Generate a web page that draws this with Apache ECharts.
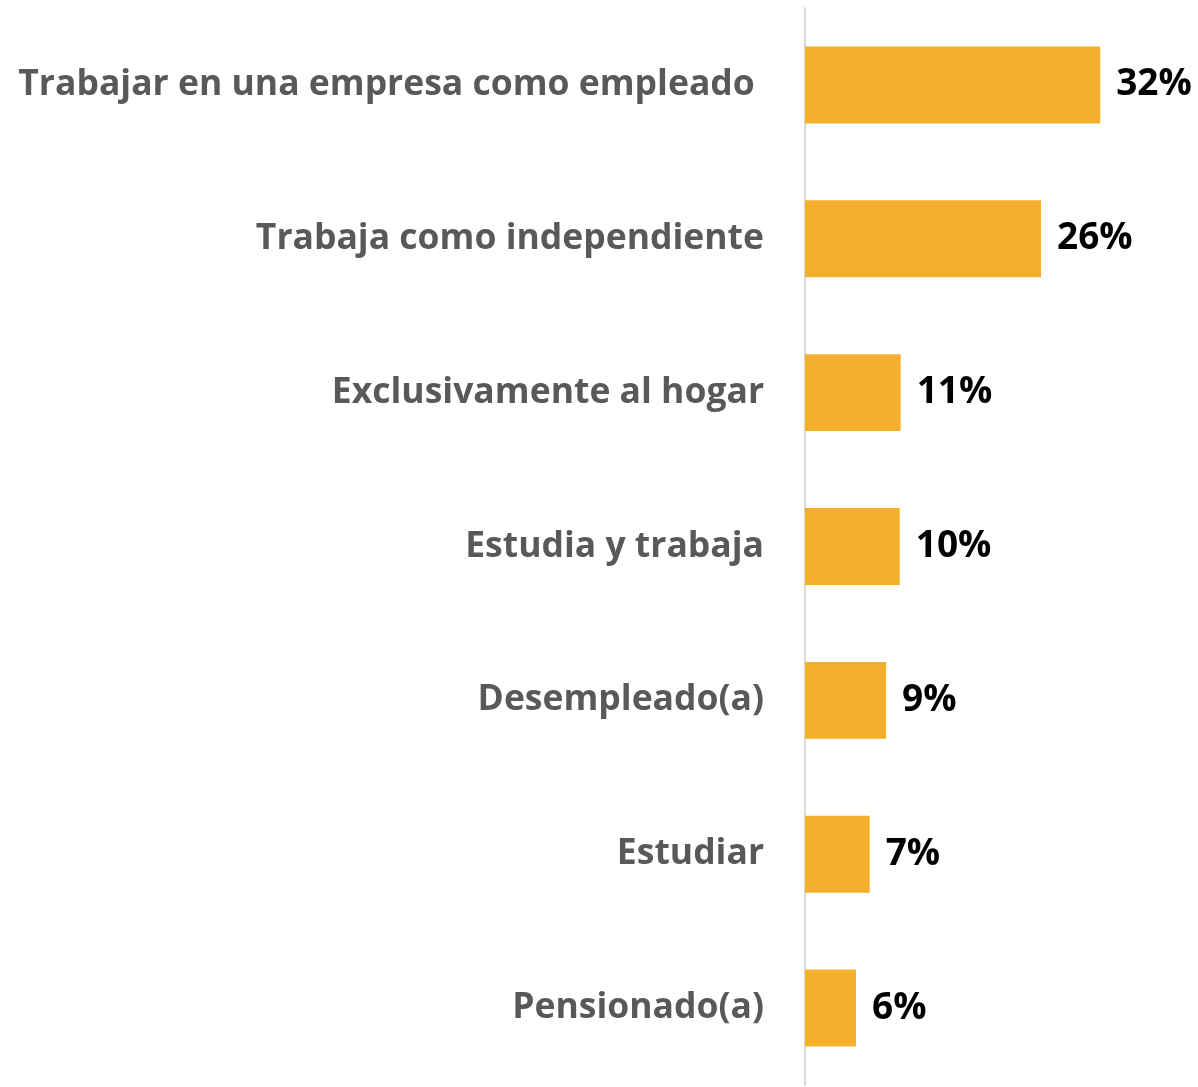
<!DOCTYPE html>
<html>
<head>
<meta charset="utf-8">
<script src="https://cdn.jsdelivr.net/npm/echarts@6/dist/echarts.min.js"></script>
<style>
  html, body { margin: 0; padding: 0; background: #fff; }
  #main { width: 1198px; height: 1087px; }
</style>
</head>
<body>
<div id="main"></div>
<script>
// categorias de arriba hacia abajo
var categorias = [
  'Trabajar en una empresa como empleado ',
  'Trabaja como independiente',
  'Exclusivamente al hogar',
  'Estudia y trabaja',
  'Desempleado(a)',
  'Estudiar',
  'Pensionado(a)'
];
// porcentajes
var valores = [32.4, 25.9, 10.5, 10.4, 8.9, 7.1, 5.6];

var myChart = echarts.init(document.getElementById('main'));
var fuente = '"Open Sans", "Noto Sans", sans-serif';

option = {
  animation: false,
  grid: { left: 805, right: 65, top: 8, bottom: 2, containLabel: false },
  xAxis: {
    type: 'value',
    min: 0,
    max: 36,
    show: false
  },
  yAxis: {
    type: 'category',
    inverse: true,
    data: categorias,
    axisLine: { show: true, lineStyle: { color: '#d9d9d9', width: 2 } },
    axisTick: { show: false },
    axisLabel: {
      margin: 41,
      color: '#595959',
      fontFamily: fuente,
      fontWeight: 'bold',
      fontSize: 35.5,
      padding: [4, 0, 0, 0]
    }
  },
  series: [{
    type: 'bar',
    data: valores,
    barWidth: '50%',
    itemStyle: { color: '#F4B02D' },
    label: {
      show: true,
      position: 'right',
      distance: 16,
      color: '#000',
      fontFamily: fuente,
      fontWeight: 'bold',
      fontSize: 37,
      padding: [6, 0, 0, 0]
    },
    labelLayout: {},
  }]
};
option.series[0].label.formatter = function (p) { return Math.round(p.value) + '%'; };

myChart.setOption(option, true);
window.addEventListener('resize', function () {
  myChart.resize();
});
</script>
</body>
</html>
